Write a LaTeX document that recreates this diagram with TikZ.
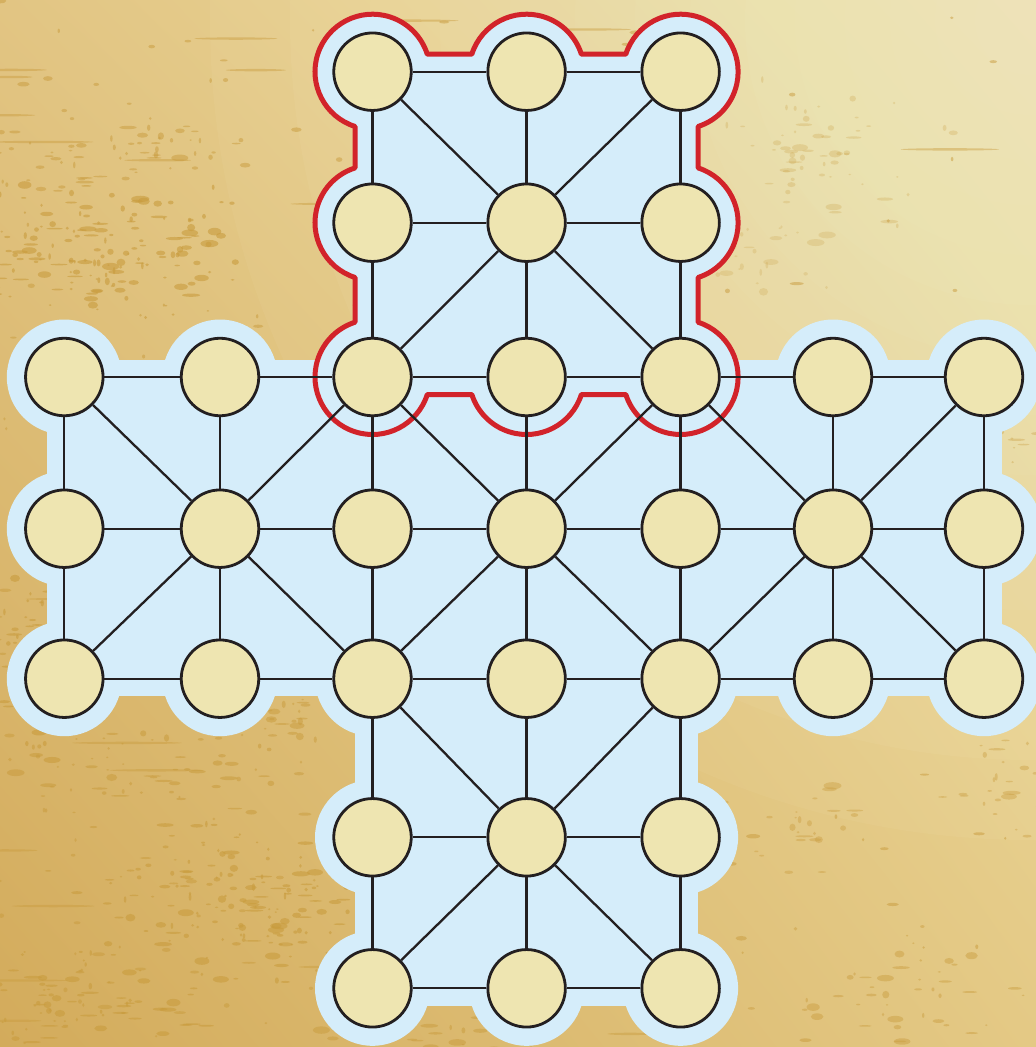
\documentclass[tikz,border=0pt]{standalone}
\usetikzlibrary{shadings}
\definecolor{bgUL}{HTML}{E2C583}
\definecolor{bgUR}{HTML}{EEE0A6}
\definecolor{bgLL}{HTML}{D3AB5B}
\definecolor{bgLR}{HTML}{E4C985}
\definecolor{glow}{HTML}{F7F0CB}
\definecolor{blotch}{HTML}{C99C3E}
\definecolor{boardblue}{HTML}{D5EDFA}
\definecolor{pointfill}{HTML}{EEE5B1}
\definecolor{ink}{HTML}{231F20}
\definecolor{redline}{HTML}{D2232A}
\begin{document}
\begin{tikzpicture}[x=1pt,y=-1pt,
  pt/.style={circle, draw=ink, line width=2.8pt, fill=pointfill, minimum size=77.5pt, inner sep=0pt},
  link/.style={draw=ink, line width=2.3pt},
  board/.style={fill=boardblue},
  outline/.style={draw=redline, line width=5pt, line join=round}]
\useasboundingbox (0,0) rectangle (1036,1047);
% background
\begin{scope}
  \clip (0,0) rectangle (1036,1047);
  \shade[upper left=bgUL, upper right=bgUR, lower left=bgLL, lower right=bgLR] (0,0) rectangle (1036,1047);
  \foreach \rr in {820,740,660,590,520,455,395,340,285,235,185,140,95,55}{
    \fill[glow, opacity=0.065] (1030,20) circle (\rr);
  }
  \pgfmathsetseed{17}
  % clustered worn patches
  \foreach \cx/\cy/\sx/\sy/\n/\op in {
      80/250/110/45/170/0.6, 150/150/70/25/40/0.5, 35/650/45/70/90/0.6,
      250/905/120/55/170/0.6, 70/1000/90/40/80/0.6, 150/780/120/40/60/0.55,
      440/1030/90/18/35/0.5, 290/720/40/25/25/0.5, 820/150/80/50/60/0.25,
      760/250/50/40/30/0.22, 880/990/90/45/45/0.45, 790/830/60/35/30/0.4,
      990/420/40/60/25/0.35, 1000/780/40/50/25/0.4}{
    \foreach \i in {1,...,\n}{
      \pgfmathsetmacro\bx{\cx+\sx*1.3*(rnd+rnd+rnd-1.5)}
      \pgfmathsetmacro\by{\cy+\sy*1.3*(rnd+rnd+rnd-1.5)}
      \pgfmathsetmacro\rx{1.2+8*rnd^2}
      \pgfmathsetmacro\ry{0.8+3*rnd^2}
      \fill[blotch, opacity=\op] (\bx,\by) ellipse [x radius=\rx, y radius=\ry];
    }
  }
  % scattered specks
  \foreach \i in {1,...,220}{
    \pgfmathsetmacro\bx{1036*rnd^1.8}
    \pgfmathsetmacro\by{1047*rnd}
    \pgfmathsetmacro\rx{1.2+6*rnd^2}
    \pgfmathsetmacro\ry{0.8+1.6*rnd}
    \fill[blotch, opacity=0.5] (\bx,\by) ellipse [x radius=\rx, y radius=\ry];
  }
  % thin horizontal scratches
  \foreach \i in {1,...,35}{
    \pgfmathsetmacro\bx{1036*rnd^1.6}
    \pgfmathsetmacro\by{1047*rnd}
    \pgfmathsetmacro\rx{15+45*rnd}
    \fill[blotch, opacity=0.45] (\bx,\by) ellipse [x radius=\rx, y radius=1.2];
  }
\end{scope}
% board
\def\m{17.5}
\def\d{54.77}
\def\R{57.5}
\def\Xa{64.3}\def\Xb{220}\def\Xc{372.5}\def\Xd{526.6}\def\Xe{680.6}\def\Xf{833}\def\Xg{984}
\def\Ya{71.7}\def\Yb{222.7}\def\Yc{377}\def\Yd{528.7}\def\Ye{678.7}\def\Yf{837.3}\def\Yg{988.3}
\fill[board] ({\Xa-\m},{\Yc-\m}) rectangle ({\Xg+\m},{\Ye+\m});
\fill[board] ({\Xc-\m},{\Ya-\m}) rectangle ({\Xe+\m},{\Yg+\m});
\foreach \x in {\Xc,\Xd,\Xe}{
  \foreach \y in {\Ya,\Yb,\Yf,\Yg}{ \fill[board] (\x,\y) circle (\R); }
}
\foreach \x in {\Xa,\Xb,\Xc,\Xd,\Xe,\Xf,\Xg}{
  \foreach \y in {\Yc,\Yd,\Ye}{ \fill[board] (\x,\y) circle (\R); }
}
% red outline of the top arm
\draw[outline] ({\Xc-\m},{\Ya+\d})
  arc[start angle=107.72, end angle=342.28, radius=\R]
  -- ({\Xd-\d},{\Ya-\m})
  arc[start angle=197.72, end angle=342.28, radius=\R]
  -- ({\Xe-\d},{\Ya-\m})
  arc[start angle=197.72, end angle=432.28, radius=\R]
  -- ({\Xe+\m},{\Yb-\d})
  arc[start angle=287.72, end angle=432.28, radius=\R]
  -- ({\Xe+\m},{\Yc-\d})
  arc[start angle=287.72, end angle=522.28, radius=\R]
  -- ({\Xd+\d},{\Yc+\m})
  arc[start angle=17.72, end angle=162.28, radius=\R]
  -- ({\Xc+\d},{\Yc+\m})
  arc[start angle=17.72, end angle=252.28, radius=\R]
  -- ({\Xc-\m},{\Yb+\d})
  arc[start angle=107.72, end angle=252.28, radius=\R]
  -- cycle;
% points
\foreach \c/\x in {3/\Xc,4/\Xd,5/\Xe}{
  \foreach \r/\y in {1/\Ya,2/\Yb,6/\Yf,7/\Yg}{ \node[pt] (n\c\r) at (\x,\y) {}; }
}
\foreach \c/\x in {1/\Xa,2/\Xb,3/\Xc,4/\Xd,5/\Xe,6/\Xf,7/\Xg}{
  \foreach \r/\y in {3/\Yc,4/\Yd,5/\Ye}{ \node[pt] (n\c\r) at (\x,\y) {}; }
}
% orthogonal connectors
\foreach \r in {3,4,5}{
  \foreach \c [evaluate=\c as \cn using int(\c+1)] in {1,...,6}{ \draw[link] (n\c\r) -- (n\cn\r); }
}
\foreach \r in {1,2,6,7}{
  \foreach \c [evaluate=\c as \cn using int(\c+1)] in {3,4}{ \draw[link] (n\c\r) -- (n\cn\r); }
}
\foreach \c in {3,4,5}{
  \foreach \r [evaluate=\r as \rn using int(\r+1)] in {1,...,6}{ \draw[link] (n\c\r) -- (n\c\rn); }
}
\foreach \c in {1,2,6,7}{
  \foreach \r [evaluate=\r as \rn using int(\r+1)] in {3,4}{ \draw[link] (n\c\r) -- (n\c\rn); }
}
% diagonal connectors
\foreach \c/\r in {4/2,2/4,4/4,6/4,4/6}{
  \pgfmathtruncatemacro\cl{\c-1}
  \pgfmathtruncatemacro\cr{\c+1}
  \pgfmathtruncatemacro\ru{\r-1}
  \pgfmathtruncatemacro\rd{\r+1}
  \draw[link] (n\c\r) -- (n\cl\ru);
  \draw[link] (n\c\r) -- (n\cr\ru);
  \draw[link] (n\c\r) -- (n\cl\rd);
  \draw[link] (n\c\r) -- (n\cr\rd);
}
\end{tikzpicture}
\end{document}
